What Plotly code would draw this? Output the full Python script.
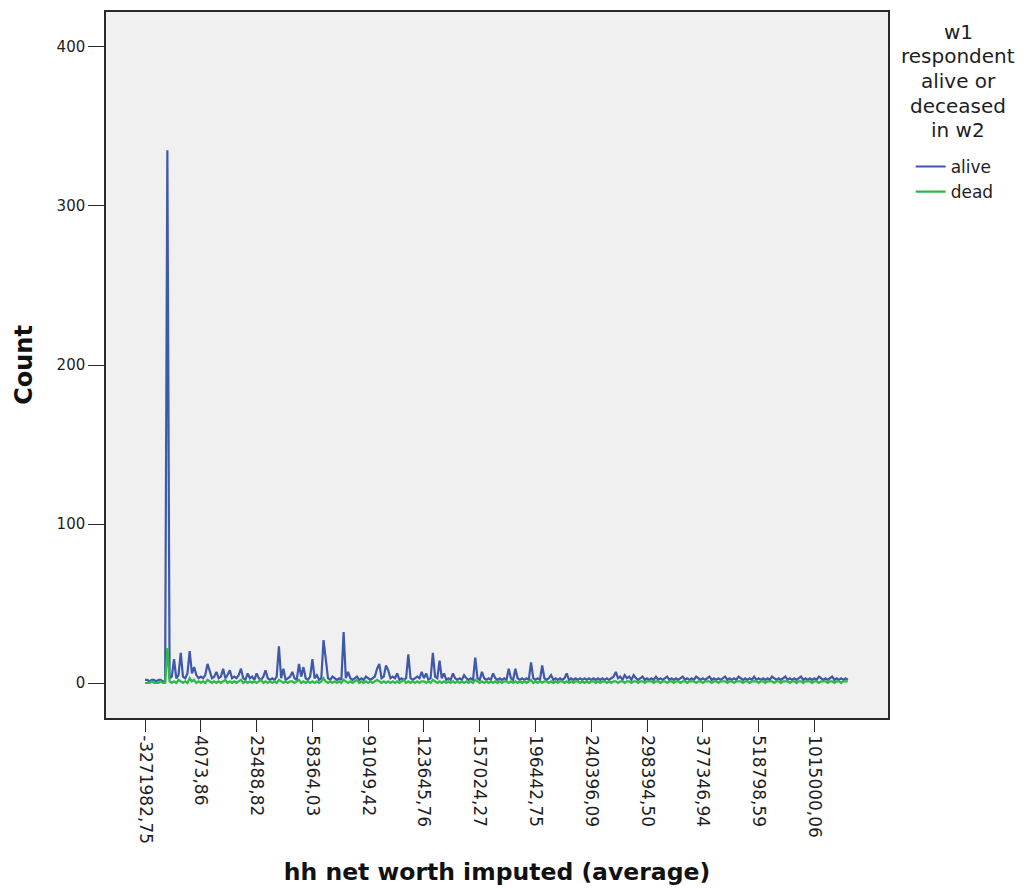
import numpy as np
import plotly.graph_objects as go

# Count of respondents per hh net worth category, split by wave-2 status
alive = [
    2, 2, 1, 2, 2, 1, 2, 2, 1, 1, 335, 3, 4, 15, 3, 5, 19, 4, 3, 6,
    20, 6, 10, 5, 3, 4, 3, 5, 12, 8, 3, 4, 7, 3, 4, 9, 3, 5, 8, 3,
    4, 3, 5, 9, 3, 2, 6, 3, 4, 2, 6, 3, 2, 4, 8, 3, 2, 3, 2, 4,
    23, 3, 9, 2, 3, 4, 7, 3, 2, 12, 4, 10, 3, 2, 4, 15, 3, 5, 2, 3,
    27, 14, 3, 2, 4, 3, 2, 3, 2, 32, 3, 7, 3, 2, 3, 4, 2, 3, 2, 4,
    3, 2, 3, 4, 9, 12, 3, 4, 11, 8, 3, 4, 3, 6, 2, 3, 2, 3, 18, 3,
    2, 3, 4, 3, 7, 3, 6, 2, 3, 19, 4, 3, 14, 3, 6, 2, 3, 2, 6, 3,
    2, 3, 2, 5, 3, 2, 3, 2, 16, 3, 2, 7, 3, 2, 3, 2, 6, 3, 2, 3,
    2, 3, 2, 9, 3, 2, 9, 3, 2, 3, 2, 3, 2, 13, 3, 2, 3, 2, 11, 3,
    2, 3, 5, 2, 3, 2, 3, 2, 3, 6, 2, 3, 2, 3, 2, 3, 2, 3, 2, 3,
    2, 3, 2, 3, 2, 3, 2, 3, 2, 3, 4, 7, 3, 4, 2, 5, 3, 4, 2, 5,
    3, 2, 3, 4, 2, 3, 2, 3, 2, 4, 2, 3, 2, 3, 4, 2, 3, 2, 3, 2,
    3, 4, 2, 3, 2, 3, 2, 4, 3, 2, 3, 2, 3, 4, 2, 3, 2, 3, 2, 3,
    4, 2, 3, 2, 3, 2, 4, 3, 2, 3, 2, 3, 2, 4, 2, 3, 2, 3, 2, 3,
    2, 4, 3, 2, 3, 2, 3, 4, 2, 3, 2, 3, 2, 3, 4, 2, 3, 2, 3, 2,
    3, 2, 4, 3, 2, 3, 2, 3, 4, 2, 3, 2, 3, 2, 3, 2,
]

dead = [
    0, 0, 0, 1, 0, 0, 0, 1, 0, 0, 22, 1, 0, 1, 0, 2, 1, 0, 1, 0,
    3, 1, 2, 0, 1, 0, 1, 0, 2, 1, 0, 1, 0, 1, 0, 1, 2, 0, 1, 0,
    1, 0, 1, 2, 0, 1, 0, 1, 0, 1, 0, 1, 2, 0, 1, 0, 1, 0, 1, 0,
    2, 1, 0, 1, 0, 1, 1, 0, 1, 2, 0, 1, 0, 1, 0, 1, 0, 1, 0, 1,
    3, 1, 0, 1, 0, 1, 0, 1, 0, 2, 1, 0, 1, 0, 1, 2, 0, 1, 0, 1,
    0, 1, 0, 1, 2, 1, 0, 1, 0, 1, 0, 1, 0, 1, 0, 1, 2, 0, 1, 0,
    1, 0, 1, 0, 1, 1, 0, 1, 0, 2, 1, 0, 1, 0, 1, 0, 1, 0, 1, 0,
    1, 0, 1, 0, 1, 0, 1, 0, 2, 1, 0, 1, 0, 1, 0, 1, 0, 1, 0, 1,
    0, 1, 1, 0, 1, 0, 1, 0, 1, 0, 1, 0, 1, 2, 0, 1, 0, 1, 0, 1,
    1, 0, 1, 0, 1, 0, 1, 1, 0, 1, 0, 1, 0, 1, 1, 0, 1, 0, 1, 0,
    1, 1, 0, 1, 0, 1, 1, 0, 1, 0, 1, 1, 0, 1, 1, 0, 1, 1, 0, 1,
    1, 0, 1, 1, 0, 1, 1, 1, 0, 1, 1, 0, 1, 1, 0, 1, 1, 0, 1, 1,
    0, 1, 1, 0, 1, 1, 1, 0, 1, 1, 0, 1, 1, 1, 0, 1, 1, 0, 1, 1,
    1, 0, 1, 1, 0, 1, 1, 1, 0, 1, 1, 0, 1, 1, 1, 0, 1, 1, 0, 1,
    1, 1, 0, 1, 1, 0, 1, 1, 1, 0, 1, 1, 0, 1, 1, 0, 1, 1, 1, 0,
    1, 1, 0, 1, 1, 1, 0, 1, 1, 0, 1, 1, 0, 1, 1, 1,
]

# Category labels shown on the axis (every 25th net-worth category)
tick_labels = [
    "-3271982,75", "4073,86", "25488,82", "58364,03", "91049,42",
    "123645,76", "157024,27", "196442,75", "240396,09", "298394,50",
    "377346,94", "518798,59", "1015000,06",
]
label_step = 25

y_ticks = [0, 100, 200, 300, 400]

legend_title_lines = ["w1", "respondent", "alive or", "deceased", "in w2"]

BLUE = "#3E58AC"
GREEN = "#2EB848"
FRAME = "#2a2a2a"
TEXT = "#1e1e1e"
SANS = "DejaVu Sans, Verdana, sans-serif"

categories = np.arange(len(alive))
tick_positions = categories[::label_step][: len(tick_labels)]

fig = go.Figure()
fig.add_trace(go.Scatter(
    x=categories, y=alive, mode="lines", name="alive",
    line=dict(color=BLUE, width=2.2),
))
fig.add_trace(go.Scatter(
    x=categories, y=dead, mode="lines", name="dead",
    line=dict(color=GREEN, width=2.2),
))

# Legend heading, one centred line per annotation
plot_top, plot_h = 12, 706
title_centres = [32, 56, 81, 106, 130]
annotations = []
for line, yc in zip(legend_title_lines, title_centres):
    annotations.append(dict(
        text=line, xref="paper", yref="paper",
        x=(958 - 106) / 782, y=(plot_top + plot_h - yc) / plot_h,
        xanchor="center", yanchor="middle", showarrow=False,
        font=dict(size=20, color=TEXT, family=SANS),
    ))

fig.update_layout(
    width=1028, height=890,
    margin=dict(l=106, r=140, t=12, b=172),
    paper_bgcolor="white",
    plot_bgcolor="#F0F0F0",
    font=dict(family=SANS, color=TEXT, size=15),
    showlegend=True,
    legend=dict(
        x=1.029, y=0.806, xanchor="left", yanchor="top",
        bgcolor="rgba(0,0,0,0)",
        font=dict(size=17, color=TEXT, family=SANS),
        itemwidth=30, tracegroupgap=0,
    ),
    annotations=annotations,
)

fig.update_xaxes(
    range=[-17.5, 333], automargin=False,
    tickmode="array", tickvals=tick_positions, ticktext=tick_labels,
    tickangle=90, ticks="outside", ticklen=12, tickcolor=FRAME,
    tickfont=dict(size=17, color=TEXT, family=SANS),
    showgrid=False, zeroline=False,
    showline=True, linecolor=FRAME, linewidth=1.5, mirror=True,
    title=dict(
        text="hh net worth imputed (average)",
        font=dict(family=SANS, size=23.5, color="#111111", weight="bold"),
        standoff=21,
    ),
)

fig.update_yaxes(
    range=[-22, 422], automargin=False,
    tickmode="array", tickvals=y_ticks,
    ticks="outside", ticklen=16, tickcolor=FRAME,
    tickfont=dict(size=15, color=TEXT, family=SANS),
    showgrid=False, zeroline=False,
    showline=True, linecolor=FRAME, linewidth=1.5, mirror=True,
    title=dict(
        text="Count",
        font=dict(family=SANS, size=24, color="#111111", weight="bold"),
        standoff=17,
    ),
)

fig.write_html("out.html")
